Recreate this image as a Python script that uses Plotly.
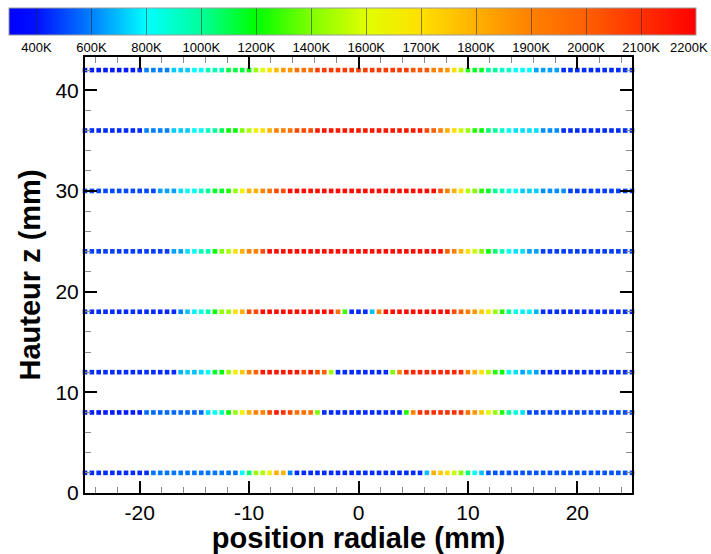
import numpy as np
import plotly.graph_objects as go

# ---- data ----
x_start = -25.0
x_step = 0.625  # mm between measurement points (81 points per height)
heights = [2, 8, 12, 18, 24, 30, 36, 42]  # mm

T_z42 = [420,420,420,420,420,420,420,420,450,600,600,600,600,720,720,720,800,800,950,950,
         950,1120,1120,1120,1200,1450,1600,1700,1780,1850,1850,1950,1950,1950,2080,2080,2080,2080,2080,2080,
         2080,2080,2080,2080,2080,2080,2080,2080,2020,2020,2020,1900,1900,1850,1700,1500,1250,1150,1150,1000,
         1000,900,900,800,800,800,650,650,650,650,450,450,450,450,450,450,450,450,450,450,
         450]
T_z36 = [450,450,450,450,450,450,450,450,450,600,600,600,600,720,720,720,820,820,920,1000,
         1100,1200,1200,1400,1500,1650,1700,1800,1900,1900,1950,2050,2050,2050,2150,2150,2150,2150,2150,2150,
         2150,2150,2150,2150,2150,2150,2150,2150,2150,2150,2050,2000,1900,1800,1700,1550,1450,1250,1200,1050,
         1000,900,820,750,750,750,750,620,620,620,450,450,450,450,450,450,450,450,450,450,
         450]
T_z30 = [500,500,500,500,500,500,500,500,500,500,500,650,650,650,750,820,820,920,1000,1150,
         1150,1250,1450,1650,1800,1800,1900,1950,2050,2050,2170,2170,2170,2170,2170,2170,2170,2170,2170,2170,
         2170,2170,2170,2170,2170,2170,2170,2170,2170,2170,2170,2170,2050,1900,1800,1700,1500,1400,1250,1150,
         1000,950,850,800,720,720,720,620,620,620,620,480,480,480,480,480,480,480,480,480,
         480]
T_z24 = [480,480,480,480,480,480,480,480,480,480,480,480,480,650,650,750,820,950,950,1200,
         1400,1500,1700,1800,1900,1900,2050,2170,2170,2170,2170,2170,2170,2170,2170,2170,2170,2170,2170,2170,
         2170,2170,2170,2170,2170,2170,2170,2170,2170,2170,2170,2170,2170,2000,1900,1800,1700,1550,1400,1200,
         1050,950,820,750,750,650,650,480,480,480,480,480,480,480,480,480,480,480,480,480,
         480]
T_z18 = [450,450,450,450,450,450,450,450,450,450,450,450,450,450,600,700,780,850,950,1200,
         1450,1450,1700,1800,2050,2050,2170,2170,2170,2170,2170,2170,2170,2170,2170,2170,2170,1950,1300,450,
         450,450,700,1900,2170,2170,2170,2170,2170,2170,2170,2170,2170,2170,2050,2000,1900,1850,1750,1650,
         1450,1250,1000,850,780,780,680,450,450,450,450,450,450,450,450,450,450,450,450,450,
         450]
T_z12 = [450,450,450,450,450,450,450,450,450,450,450,450,450,450,680,720,700,740,820,1150,
         1200,1450,1650,1750,1900,2000,2150,2150,2150,2150,2150,2150,2050,2150,2050,2000,1450,450,450,450,
         450,450,450,450,450,1400,1900,2120,2120,2120,2120,2120,2120,2120,2120,2120,1900,1800,1700,1500,
         1250,1200,850,750,650,720,650,450,450,450,450,450,450,450,450,450,450,450,450,450,
         450]
T_z8 = [420,420,420,420,420,420,420,420,420,560,560,560,560,560,560,560,560,560,750,820,
        950,1200,1450,1650,1800,1900,1900,2050,2150,2100,2050,1950,1950,1950,1400,450,450,450,450,450,
        450,450,450,450,450,450,450,1250,1900,2100,2100,2100,2100,2100,2100,2100,1950,1850,1750,1600,
        1450,1250,1000,850,750,500,500,500,500,500,500,500,500,500,500,500,500,500,500,500,
        500]
T_z2 = [450,450,450,450,450,450,450,450,450,450,580,580,580,580,580,580,580,580,580,580,
        580,580,580,800,1050,1450,1500,1650,1800,1800,600,450,450,450,450,450,450,450,450,450,
        450,450,450,450,450,450,450,450,450,450,700,1800,1750,1700,1550,1400,1050,820,700,520,
        520,520,520,520,520,520,520,520,520,520,520,520,520,520,520,520,520,520,520,520,
        520]

rows = [T_z2, T_z8, T_z12, T_z18, T_z24, T_z30, T_z36, T_z42]

levels = [400, 600, 800, 1000, 1200, 1400, 1600, 1700, 1800, 1900, 2000, 2100, 2200]
level_labels = [f"{v}K" for v in levels]

x_ticks = [-20, -10, 0, 10, 20]
x_ticktext = ["-20", "-10", "0", "10", "20"]
y_ticks = [0, 10, 20, 30, 40]

# ---- build ----
xs, ys, cs = [], [], []
for z, row in zip(heights, rows):
    for i, t in enumerate(row):
        xs.append(x_start + x_step * i)
        ys.append(z)
        cs.append(float(np.interp(t, levels, np.arange(len(levels)))))

colorscale = [
    [0.0, "#0000ff"],
    [0.5 / 12.5, "#0010ff"],
    [1.5 / 12.5, "#0080ff"],
    [2.5 / 12.5, "#00ffff"],
    [3.5 / 12.5, "#00ff99"],
    [4.5 / 12.5, "#00ff00"],
    [5.5 / 12.5, "#80ff00"],
    [6.5 / 12.5, "#e0ff00"],
    [7.5 / 12.5, "#ffe000"],
    [8.5 / 12.5, "#ffb000"],
    [9.5 / 12.5, "#ff8000"],
    [10.5 / 12.5, "#ff6000"],
    [11.5 / 12.5, "#ff3000"],
    [1.0, "#ff0000"],
]

FONT = "Liberation Sans, Arial, sans-serif"

W, H = 711, 554
L, R, T, B = 85, 79, 57, 61
pw, ph = W - L - R, H - T - B
CB_LEFT, CB_LEN, CB_TOP, CB_THICK = 9, 687, 8, 27
CB_MIN, CB_MAX = -0.5, 12.0

fig = go.Figure()
fig.add_trace(go.Scatter(
    x=xs, y=ys, mode="markers", cliponaxis=False,
    marker=dict(
        symbol="square", size=4.6, color=cs, colorscale=colorscale,
        cmin=CB_MIN, cmax=CB_MAX, line=dict(width=0),
        showscale=True,
        colorbar=dict(
            orientation="h",
            x=(CB_LEFT - L) / pw, xanchor="left", y=(H - B - CB_TOP) / ph, yanchor="top",
            lenmode="pixels", len=CB_LEN, thickness=CB_THICK,
            xpad=0, ypad=0,
            tickmode="array", tickvals=list(range(len(levels) - 1)), ticktext=level_labels[:-1],
            ticks="inside", ticklen=CB_THICK, tickwidth=1, tickcolor="rgba(40,40,40,0.55)",
            tickfont=dict(family=FONT, size=13, color="black"),
            outlinecolor="#999999", outlinewidth=1,
        ),
    ),
    showlegend=False,
))

# last colour-bar label (at the right end of the bar, kept inside the page)
fig.add_annotation(
    xref="paper", yref="paper",
    x=(W - 1 - L) / pw, y=(H - B - CB_TOP - CB_THICK - 3) / ph,
    xanchor="right", yanchor="top", showarrow=False,
    text=level_labels[-1], font=dict(family=FONT, size=13, color="black"),
)

axis_common = dict(
    showgrid=False, zeroline=False, automargin=False,
    showline=True, linecolor="black", linewidth=2, mirror="ticks",
    ticks="inside", ticklen=12, tickwidth=2, tickcolor="black",
    tickfont=dict(family=FONT, size=21, color="black"),
)

fig.update_layout(
    width=W, height=H,
    margin=dict(l=L, r=R, t=T, b=B, autoexpand=False),
    paper_bgcolor="white", plot_bgcolor="white",
    xaxis=dict(
        range=[-25, 25], tickmode="array", tickvals=x_ticks, ticktext=x_ticktext,
        minor=dict(tickmode="array", tickvals=[v for v in range(-24, 25, 2) if v % 10 != 0],
                   ticks="inside", ticklen=6, tickwidth=1, tickcolor="#8a8a8a"),
        title=dict(text="position radiale (mm)", standoff=9,
                   font=dict(family=FONT, size=29, color="black", weight="bold")),
        **axis_common,
    ),
    yaxis=dict(
        range=[0, 43.3], tickmode="array", tickvals=y_ticks,
        minor=dict(tickmode="array", tickvals=[v for v in range(2, 44, 2) if v % 10 != 0],
                   ticks="inside", ticklen=6, tickwidth=1, tickcolor="#8a8a8a"),
        title=dict(text="Hauteur z (mm)", standoff=6,
                   font=dict(family=FONT, size=29, color="black", weight="bold")),
        **axis_common,
    ),
)

fig.write_html(
    "out.html",
    config={"displayModeBar": False},
    post_script="document.body.style.margin='0';document.body.style.overflow='hidden';",
)
